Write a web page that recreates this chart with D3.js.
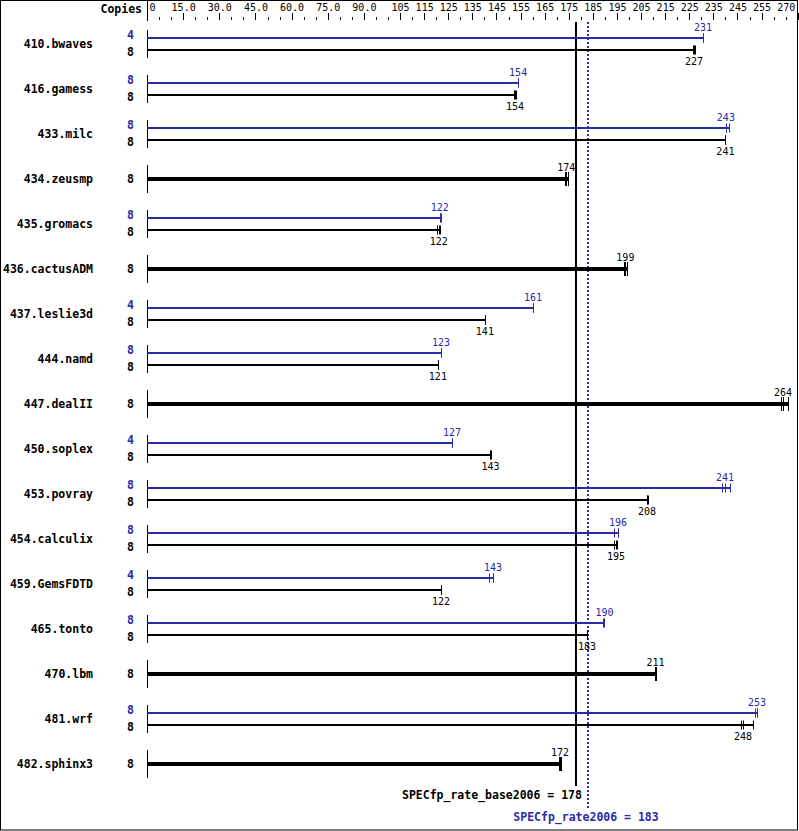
<!DOCTYPE html>
<html lang="en">
<head>
<meta charset="UTF-8">
<script src="https://d3js.org/d3.v7.min.js"></script>
<title>SPECfp_rate2006</title>
<style>
  body { margin: 0; background: #fff; }
  svg text { font-family: "DejaVu Sans Mono", monospace; }
  .lbl { font-weight: bold; font-size: 11.5px; }
  .val { font-size: 10px; }
  .axis text { font-size: 10px; }
  .axis .domain { stroke: none; }
</style>
</head>
<body>
<svg id="chart" width="799" height="831"></svg>
<script>
// benchmarks, top to bottom
const benchmarks = ["410.bwaves","416.gamess","433.milc","434.zeusmp","435.gromacs","436.cactusADM",
  "437.leslie3d","444.namd","447.dealII","450.soplex","453.povray","454.calculix","459.GemsFDTD",
  "465.tonto","470.lbm","481.wrf","482.sphinx3"];
// null = no separate peak result (single thick bar)
const peakCopies = [4,8,8,null,8,null,4,8,null,4,8,8,4,8,null,8,null];
const baseCopies = [8,8,8,8,8,8,8,8,8,8,8,8,8,8,8,8,8];
const peakRatio = ["231","154","243",null,"122",null,"161","123",null,"127","241","196","143","190",null,"253",null];
const baseRatio = ["227","154","241","174","122","199","141","121","264","143","208","195","122","183","211","248","172"];
// individual run ratios (tick marks at bar ends)
const peakRuns = [
  [230.7,230.7,230.7],[154,154,154],[240.2,240.2,241.5],null,[121.5,121.5,121.9],null,
  [160.2,160.2,160.2],[122,122,122],null,[126.6,126.6,126.6],[238.5,239.8,241.9],
  [193.8,195.4,195.4],[141.9,143.6,143.6],[189.4,189.8,189.8],null,[252.3,253.1,253.1],null];
const baseRuns = [
  [226.5,227,227.4],[152.3,152.7,153.1],[240,240,240],[173.4,174,174.7],[120.3,121.1,121.6],
  [197.9,198.5,199.2],[140.2,140.2,140.2],[120.7,120.7,120.7],[262.9,263.9,266.1],
  [142.3,142.5,142.6],[207.5,207.5,207.8],[193.8,194.6,195],[122,122,122],[182.6,182.6,182.6],
  [210.8,211,211.2],[246.5,247.3,251.5],[171,171.4,171.8]];
const baseMean = 178, peakMean = 183;
const majorTicks = [0,15,30,45,60,75,90,105,115,125,135,145,155,165,175,185,195,205,215,225,235,245,255,270];
const minorTicks = [5,10,20,25,35,40,50,55,65,70,80,85,95,100,110,120,130,140,150,160,170,180,
  190,200,210,220,230,240,250,260,265];

const blue = "#2a2aaa";
const svg = d3.select("#chart");
const x = d3.scaleLinear().domain([0, 270]).range([147, 147 + 270 * 2.41]);
const y = d3.scaleBand().domain(benchmarks).range([21, 21 + 45 * benchmarks.length]);
const cy = name => Math.round(y(name) + y.bandwidth() / 2);

// frame
svg.append("rect").attr("x", 0.5).attr("y", 0.5).attr("width", 797).attr("height", 829.5)
  .attr("fill", "none").attr("stroke", "#000");

// top axis
const axisG = svg.append("g").attr("class", "axis").attr("transform", "translate(0,20)");
axisG.call(d3.axisTop(x).tickValues(majorTicks).tickSize(7).tickPadding(2)
  .tickFormat(d => d == 0 ? "0" : d <= 90 ? d3.format(".1f")(d) : d));
axisG.append("g").call(d3.axisTop(x).tickValues(minorTicks).tickSize(3).tickFormat(""))
  .select(".domain").remove();
axisG.selectAll(".tick line").attr("shape-rendering", "crispEdges");
axisG.selectAll(".tick text").filter(d => d == 0).attr("text-anchor", "start").attr("dx", 2);
axisG.selectAll(".tick text").filter(d => d == 270).attr("text-anchor", "end").attr("dx", -3);
svg.append("line").attr("x1", 147.5).attr("x2", 147.5).attr("y1", 0).attr("y2", 21).attr("stroke", "#000");
svg.append("text").attr("class", "lbl").attr("x", 142).attr("y", 13).attr("text-anchor", "end").text("Copies");

// mean reference lines
svg.append("line").attr("x1", x(baseMean)).attr("x2", x(baseMean)).attr("y1", 22).attr("y2", 786)
  .attr("stroke", "#000").attr("stroke-width", 2);
svg.append("line").attr("x1", x(peakMean)).attr("x2", x(peakMean)).attr("y1", 22).attr("y2", 808)
  .attr("stroke", blue).attr("stroke-width", 2).attr("stroke-dasharray", "2,2");
svg.append("text").attr("class", "lbl").attr("x", x(baseMean) + 6).attr("y", 799)
  .attr("text-anchor", "end").text("SPECfp_rate_base2006 = " + baseMean);
svg.append("text").attr("class", "lbl").attr("x", x(peakMean) - 2).attr("y", 821).attr("fill", blue)
  .attr("text-anchor", "middle").text("SPECfp_rate2006 = " + peakMean);

function drawBar(g, yy, runs, label, color, width, tickH, labelDy) {
  const sorted = runs.slice().sort((a, b) => a - b);
  const med = d3.median(sorted);
  g.append("line").attr("x1", x(0)).attr("x2", x(d3.max(sorted))).attr("y1", yy).attr("y2", yy)
    .attr("stroke", color).attr("stroke-width", width).attr("shape-rendering", "crispEdges");
  g.selectAll(null).data(sorted).join("line")
    .attr("x1", d => Math.round(x(d)) + 0.5).attr("x2", d => Math.round(x(d)) + 0.5)
    .attr("y1", yy - tickH).attr("y2", yy + tickH)
    .attr("stroke", color).attr("stroke-width", 1);
  g.append("text").attr("class", "val").attr("x", x(med)).attr("y", yy + labelDy)
    .attr("text-anchor", "middle").attr("fill", color).text(label);
}

benchmarks.forEach((name, i) => {
  const c = cy(name);
  const g = svg.append("g");
  g.append("text").attr("class", "lbl").attr("x", 93).attr("y", c + 4).attr("text-anchor", "end").text(name);
  g.append("line").attr("x1", 147.5).attr("x2", 147.5).attr("y1", c - 14).attr("y2", c + 14).attr("stroke", "#000");
  if (peakCopies[i] != null) {
    g.append("text").attr("class", "lbl").attr("x", 134).attr("y", c - 5).attr("text-anchor", "end")
      .attr("fill", blue).text(peakCopies[i]);
    g.append("text").attr("class", "lbl").attr("x", 134).attr("y", c + 12).attr("text-anchor", "end")
      .text(baseCopies[i]);
    drawBar(g, c - 6, peakRuns[i], peakRatio[i], blue, 2, 4.5, -7);
    drawBar(g, c + 6, baseRuns[i], baseRatio[i], "#000", 2, 4.5, 15);
  } else {
    g.append("text").attr("class", "lbl").attr("x", 134).attr("y", c + 4).attr("text-anchor", "end")
      .text(baseCopies[i]);
    drawBar(g, c, baseRuns[i], baseRatio[i], "#000", 4, 7, -8);
  }
});
</script>
</body>
</html>
